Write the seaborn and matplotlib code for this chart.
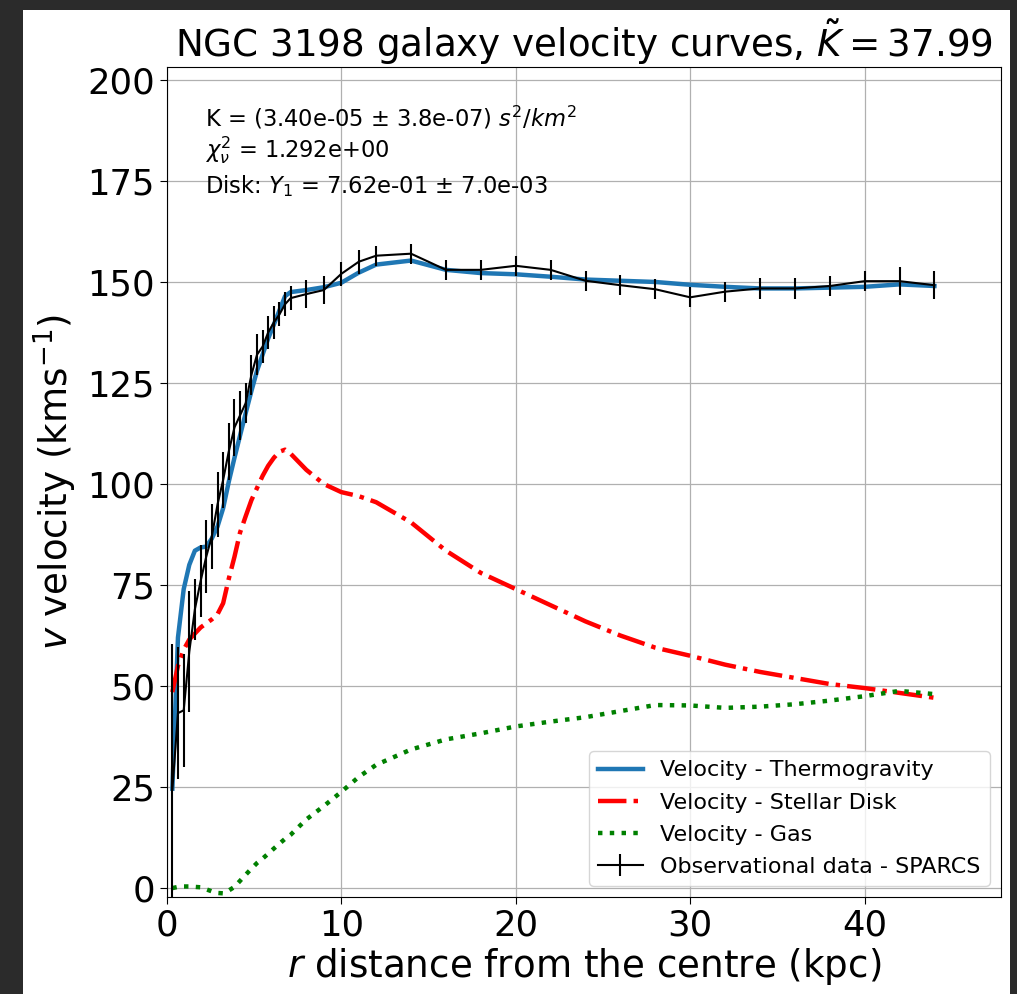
import numpy as np
import pandas as pd
import matplotlib
matplotlib.use('Agg')
import matplotlib.pyplot as plt
import seaborn as sns
from matplotlib.patches import Rectangle

# radii (kpc)
r = [0.32, 0.64, 0.97, 1.29, 1.61, 1.94, 2.26, 2.58, 2.91, 3.23, 3.55, 3.88, 4.20, 4.52, 4.85,
     5.17, 5.49, 5.81, 6.14, 6.46, 6.78, 7.10, 8.0, 9.0, 10.0, 11.0, 12.0, 14.0, 16.0, 18.0,
     20.0, 22.0, 24.0, 26.0, 28.0, 30.0, 32.0, 34.0, 36.0, 38.0, 40.0, 42.0, 44.0]
v_obs = [24.4, 43.3, 44.0, 58.5, 69.0, 76.0, 82.0, 87.0, 95.0, 101.0, 108.0, 114.0, 117.0, 120.0, 127.0,
         132.0, 134.0, 137.5, 140.0, 142.0, 144.5, 146.0, 147.0, 148.0, 152.0, 155.0, 156.5, 157.0, 153.0, 153.0,
         154.0, 153.0, 150.3, 149.2, 148.2, 146.2, 147.6, 148.4, 148.4, 149.0, 150.2, 150.2, 149.2]
v_err = [35.9, 16.3, 14.0, 15.0, 7.5, 9.0, 9.0, 8.0, 8.0, 7.0, 7.0, 7.0, 6.0, 5.0, 5.0,
         5.0, 4.0, 4.0, 4.0, 3.0, 3.0, 3.0, 3.5, 3.5, 3.0, 3.0, 2.5, 2.5, 2.5, 2.5,
         2.5, 2.5, 2.5, 2.5, 2.5, 2.5, 2.5, 2.5, 2.5, 2.5, 2.5, 3.5, 3.5]
v_model = [24.6, 62.0, 74.0, 80.0, 83.5, 84.3, 84.5, 86.5, 89.5, 94.0, 100.5, 106.5, 112.0, 117.5, 123.0,
           128.0, 132.0, 136.0, 139.5, 143.0, 146.5, 147.5, 148.0, 148.7, 149.8, 152.3, 154.3, 155.3, 153.0, 152.2,
           151.9, 151.3, 150.6, 150.3, 150.0, 149.3, 148.8, 148.4, 148.4, 148.6, 148.8, 149.4, 149.0]
v_disk = [48.5, 55.0, 59.0, 61.5, 63.0, 64.5, 65.5, 66.5, 67.8, 70.5, 76.5, 82.0, 88.0, 92.0, 96.0,
          99.0, 102.0, 104.5, 106.5, 108.0, 108.5, 107.5, 103.5, 100.0, 98.0, 97.0, 95.5, 90.5, 83.5, 78.0,
          74.0, 70.0, 66.0, 62.5, 59.5, 57.5, 55.3, 53.5, 52.0, 50.5, 49.5, 48.3, 47.1]
v_gas = [0.0, 0.3, 0.4, 0.4, 0.3, 0.2, -0.3, -0.8, -1.2, -1.3, -0.6, 0.3, 1.8, 3.3, 4.8,
         6.2, 7.3, 8.5, 9.8, 11.0, 12.2, 13.2, 17.0, 20.3, 23.8, 27.5, 30.5, 34.3, 36.8, 38.3,
         40.0, 41.2, 42.3, 43.8, 45.3, 45.2, 44.6, 44.9, 45.5, 46.4, 47.5, 48.8, 48.0]

df = pd.DataFrame({'r': r, 'obs': v_obs, 'err': v_err, 'model': v_model, 'disk': v_disk, 'gas': v_gas})

fig = plt.figure(figsize=(10.17, 9.94), dpi=100)
fig.patch.set_facecolor('#2b2b2b')
fig.patches.append(Rectangle((23/1017, 0), (1010-23)/1017, (994-10)/994, transform=fig.transFigure,
                             facecolor='white', edgecolor='none', zorder=-5))
ax = fig.add_axes([0.164, 0.0976, 0.820, 0.835])

sns.lineplot(data=df, x='r', y='model', ax=ax, color='#1f77b4', lw=3.2, label='Velocity - Thermogravity')
sns.lineplot(data=df, x='r', y='disk', ax=ax, color='red', lw=3.2, linestyle='-.', label='Velocity - Stellar Disk')
sns.lineplot(data=df, x='r', y='gas', ax=ax, color='green', lw=3.2, linestyle=':', label='Velocity - Gas')
ax.errorbar(df['r'], df['obs'], yerr=df['err'], color='black', lw=1.5, elinewidth=1.5,
            label='Observational data - SPARCS')

ax.set_xlim(0, 47.8)
ax.set_ylim(-2.2, 203.2)
ax.set_xticks([0, 10, 20, 30, 40])
ax.set_yticks([0, 25, 50, 75, 100, 125, 150, 175, 200])
ax.grid(True, color='#b0b0b0', lw=0.9)
ax.tick_params(labelsize=25.5, length=5)
ax.set_title(r'NGC 3198 galaxy velocity curves, $\tilde{K} = 37.99$', fontsize=26.8, pad=7)
ax.set_xlabel(r'$r$ distance from the centre (kpc)', fontsize=26.8, labelpad=2)
ax.set_ylabel(r'$v$ velocity (kms$^{-1}$)', fontsize=26.8, labelpad=6)

ax.text(0.046, 0.939, r'K = (3.40e-05 $\pm$ 3.8e-07) $s^2/km^2$', transform=ax.transAxes, fontsize=16.3, va='center')
ax.text(0.046, 0.900, r'$\chi^2_\nu$ = 1.292e+00', transform=ax.transAxes, fontsize=16.3, va='center')
ax.text(0.046, 0.857, r'Disk: $Y_1$ = 7.62e-01 $\pm$ 7.0e-03', transform=ax.transAxes, fontsize=16.3, va='center')

ax.legend(loc='lower right', fontsize=16, labelspacing=0.55)

fig.savefig('out.png', dpi=100, facecolor=fig.get_facecolor())
